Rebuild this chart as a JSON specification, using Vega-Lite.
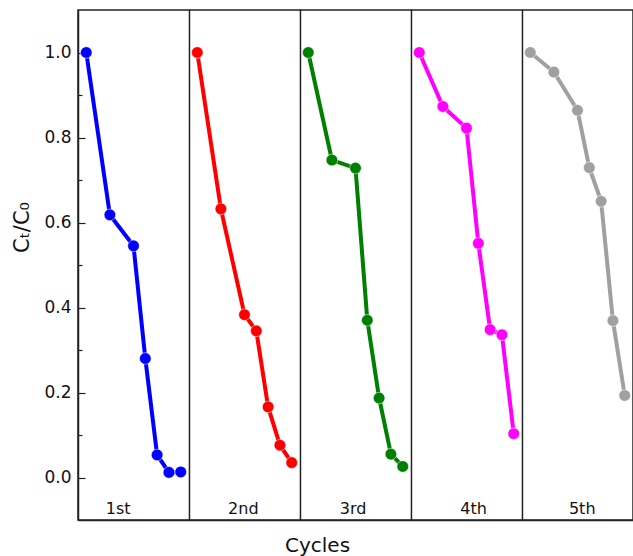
{
  "$schema": "https://vega.github.io/schema/vega-lite/v6.json",
  "width": 555,
  "height": 510,
  "autosize": "none",
  "padding": {"left": 78, "top": 10, "right": 0, "bottom": 36},
  "background": "white",
  "config": {
    "view": {"stroke": "#222", "strokeWidth": 1.5},
    "font": "DejaVu Sans"
  },
  "datasets": {
    "pts": [
      {"cycle": "1st", "pos": 0, "r": 1.0},
      {"cycle": "1st", "pos": 20, "r": 0.618},
      {"cycle": "1st", "pos": 40, "r": 0.545},
      {"cycle": "1st", "pos": 50, "r": 0.28},
      {"cycle": "1st", "pos": 60, "r": 0.053},
      {"cycle": "1st", "pos": 70, "r": 0.012},
      {"cycle": "1st", "pos": 80, "r": 0.013},
      {"cycle": "2nd", "pos": 94, "r": 1.0},
      {"cycle": "2nd", "pos": 114, "r": 0.632},
      {"cycle": "2nd", "pos": 134, "r": 0.383},
      {"cycle": "2nd", "pos": 144, "r": 0.345},
      {"cycle": "2nd", "pos": 154, "r": 0.166},
      {"cycle": "2nd", "pos": 164, "r": 0.076},
      {"cycle": "2nd", "pos": 174, "r": 0.035},
      {"cycle": "3rd", "pos": 188, "r": 1.0},
      {"cycle": "3rd", "pos": 208, "r": 0.747},
      {"cycle": "3rd", "pos": 228, "r": 0.728},
      {"cycle": "3rd", "pos": 238, "r": 0.37},
      {"cycle": "3rd", "pos": 248, "r": 0.187},
      {"cycle": "3rd", "pos": 258, "r": 0.055},
      {"cycle": "3rd", "pos": 268, "r": 0.026},
      {"cycle": "4th", "pos": 282, "r": 1.0},
      {"cycle": "4th", "pos": 302, "r": 0.873},
      {"cycle": "4th", "pos": 322, "r": 0.822},
      {"cycle": "4th", "pos": 332, "r": 0.551},
      {"cycle": "4th", "pos": 342, "r": 0.348},
      {"cycle": "4th", "pos": 352, "r": 0.336},
      {"cycle": "4th", "pos": 362, "r": 0.103},
      {"cycle": "5th", "pos": 376, "r": 1.0},
      {"cycle": "5th", "pos": 396, "r": 0.954},
      {"cycle": "5th", "pos": 416, "r": 0.864},
      {"cycle": "5th", "pos": 426, "r": 0.729},
      {"cycle": "5th", "pos": 436, "r": 0.65},
      {"cycle": "5th", "pos": 446, "r": 0.369},
      {"cycle": "5th", "pos": 456, "r": 0.193}
    ],
    "seps": [{"pos": 87.4}, {"pos": 181.4}, {"pos": 275.4}, {"pos": 369.4}],
    "labels": [
      {"cycle": "1st", "pos": 27},
      {"cycle": "2nd", "pos": 133},
      {"cycle": "3rd", "pos": 226},
      {"cycle": "4th", "pos": 328},
      {"cycle": "5th", "pos": 420}
    ]
  },
  "layer": [
    {
      "data": {"name": "seps"},
      "mark": {"type": "rule", "color": "#222", "strokeWidth": 1.5},
      "encoding": {
        "x": {"field": "pos", "type": "quantitative", "scale": {"domain": [-7, 463], "nice": false, "zero": false},
          "axis": {"title": "Cycles", "labels": false, "ticks": false, "domain": true, "domainColor": "#222", "domainWidth": 1.5, "grid": false,
            "titleFont": "DejaVu Sans", "titleFontSize": 20, "titleFontWeight": "normal", "titleColor": "#111",
            "titleX": 239, "titleY": 31, "titleBaseline": "alphabetic", "titleAlign": "center", "titleAnchor": null}}
      }
    },
    {
      "data": {"name": "pts"},
      "mark": {"type": "line", "strokeWidth": 4},
      "encoding": {
        "x": {"field": "pos", "type": "quantitative"},
        "y": {"field": "r", "type": "quantitative", "scale": {"domain": [-0.1, 1.1], "nice": false, "zero": false},
          "axis": {"title": "Cₜ/C₀", "values": [0, 0.1, 0.2, 0.3, 0.4, 0.5, 0.6, 0.7, 0.8, 0.9, 1.0],
            "labelExpr": "round(datum.value*10) % 2 == 0 ? format(datum.value, '.1f') : ''",
            "tickSize": {"condition": {"test": "round(datum.value*10) % 2 == 0", "value": -7}, "value": -4},
            "tickColor": "#222", "tickWidth": 1.2, "domainColor": "#222", "domainWidth": 1.5, "grid": false,
            "labelFont": "DejaVu Sans", "labelFontSize": 17, "labelColor": "#111", "labelPadding": 14,
            "titleFont": "DejaVu Sans", "titleFontSize": 21, "titleFontWeight": "normal", "titleColor": "#111",
            "titleX": -56, "titleY": 217, "titleAngle": -90, "titleBaseline": "middle", "titleAlign": "center"}},
        "color": {"field": "cycle", "type": "nominal",
          "scale": {"domain": ["1st", "2nd", "3rd", "4th", "5th"], "range": ["#0000FF", "#FF0000", "#008000", "#FF00FF", "#A0A0A0"]},
          "legend": null}
      }
    },
    {
      "data": {"name": "pts"},
      "mark": {"type": "point", "filled": true, "opacity": 1, "size": 135, "stroke": "white", "strokeWidth": 0.5},
      "encoding": {
        "x": {"field": "pos", "type": "quantitative"},
        "y": {"field": "r", "type": "quantitative"},
        "color": {"field": "cycle", "type": "nominal"}
      }
    },
    {
      "data": {"name": "labels"},
      "mark": {"type": "text", "fontSize": 16, "color": "#111", "baseline": "middle", "align": "center", "font": "DejaVu Sans"},
      "encoding": {
        "x": {"field": "pos", "type": "quantitative"},
        "y": {"datum": -0.075, "type": "quantitative"},
        "text": {"field": "cycle"}
      }
    }
  ]
}
